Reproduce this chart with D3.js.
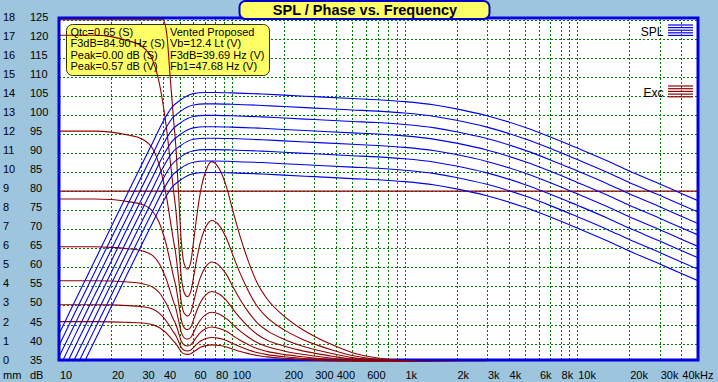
<!DOCTYPE html>
<html>
<head>
<meta charset="utf-8">
<script src="https://cdn.jsdelivr.net/npm/d3@7"></script>
<style>
  body { margin: 0; background: #9ec5de; }
  svg { display: block; font-family: "Liberation Sans", Arial, sans-serif; }
</style>
</head>
<body>
<svg id="chart" width="718" height="382"></svg>
<script>
window.addEventListener("load", drawChart);

// axis labels
var FREQ_TICKS = [10, 20, 30, 40, 60, 80, 100, 200, 300, 400, 600, 1000, 2000, 3000, 4000, 6000, 8000, 10000, 20000, 30000, 40000];
var FREQ_LABELS = ["10", "20", "30", "40", "60", "80", "100", "200", "300", "400", "600", "1k", "2k", "3k", "4k", "6k", "8k", "10k", "20k", "30k", "40kHz"];
var DB_TICKS = [35, 40, 45, 50, 55, 60, 65, 70, 75, 80, 85, 90, 95, 100, 105, 110, 115, 120, 125];
var MM_TICKS = [0, 1, 2, 3, 4, 5, 6, 7, 8, 9, 10, 11, 12, 13, 14, 15, 16, 17, 18];

// SPL curves (dB), one per drive level
var SPL_FREQ = [10, 12, 15, 20, 25, 30, 35, 40, 45, 50, 55, 60, 70, 80, 100, 150, 200, 300, 500, 700, 1000, 1500, 2000, 3000, 5000, 7000, 10000, 15000, 20000, 30000, 40000, 50000];
var SPL_1 = [42.5, 49.9, 58.9, 70.5, 79.5, 86.8, 92.9, 98.2, 102.0, 103.8, 105.0, 105.6, 105.9, 105.9, 105.8, 105.5, 105.2, 104.8, 104.3, 104.0, 103.5, 102.6, 101.6, 99.8, 96.7, 94.2, 91.3, 87.9, 85.3, 81.9, 79.4, 77.5];
var SPL_2 = [39.5, 46.9, 55.9, 67.5, 76.5, 83.8, 89.9, 95.2, 99.0, 100.8, 102.0, 102.6, 102.9, 102.9, 102.8, 102.5, 102.2, 101.8, 101.3, 101.0, 100.5, 99.6, 98.6, 96.8, 93.7, 91.2, 88.3, 84.9, 82.3, 78.9, 76.4, 74.5];
var SPL_3 = [36.5, 43.9, 52.9, 64.5, 73.5, 80.8, 86.9, 92.2, 96.0, 97.8, 99.0, 99.6, 99.9, 99.9, 99.8, 99.5, 99.2, 98.8, 98.3, 98.0, 97.5, 96.6, 95.6, 93.8, 90.7, 88.2, 85.3, 81.9, 79.3, 75.9, 73.4, 71.5];
var SPL_4 = [33.5, 40.9, 49.9, 61.5, 70.5, 77.8, 83.9, 89.2, 93.0, 94.8, 96.0, 96.6, 96.9, 96.9, 96.8, 96.5, 96.2, 95.8, 95.3, 95.0, 94.5, 93.6, 92.6, 90.8, 87.7, 85.2, 82.3, 78.9, 76.3, 72.9, 70.4, 68.5];
var SPL_5 = [30.5, 37.9, 46.9, 58.5, 67.5, 74.8, 80.9, 86.2, 90.0, 91.8, 93.0, 93.6, 93.9, 93.9, 93.8, 93.5, 93.2, 92.8, 92.3, 92.0, 91.5, 90.6, 89.6, 87.8, 84.7, 82.2, 79.3, 75.9, 73.3, 69.9, 67.4, 65.5];
var SPL_6 = [27.5, 34.9, 43.9, 55.5, 64.5, 71.8, 77.9, 83.2, 87.0, 88.8, 90.0, 90.6, 90.9, 90.9, 90.8, 90.5, 90.2, 89.8, 89.3, 89.0, 88.5, 87.6, 86.6, 84.8, 81.7, 79.2, 76.3, 72.9, 70.3, 66.9, 64.4, 62.5];
var SPL_7 = [24.5, 31.9, 40.9, 52.5, 61.5, 68.8, 74.9, 80.2, 84.0, 85.8, 87.0, 87.6, 87.9, 87.9, 87.8, 87.5, 87.2, 86.8, 86.3, 86.0, 85.5, 84.6, 83.6, 81.8, 78.7, 76.2, 73.3, 69.9, 67.3, 63.9, 61.4, 59.5];
var SPL_8 = [21.5, 28.9, 37.9, 49.5, 58.5, 65.8, 71.9, 77.2, 81.0, 82.8, 84.0, 84.6, 84.9, 84.9, 84.8, 84.5, 84.2, 83.8, 83.3, 83.0, 82.5, 81.6, 80.6, 78.8, 75.7, 73.2, 70.3, 66.9, 64.3, 60.9, 58.4, 56.5];

// cone excursion curves (mm), same drive levels
var EXC_FREQ = [10, 16, 20, 25, 30, 35, 38, 40, 42, 44, 46, 47.5, 49, 51, 53, 55.5, 58, 60, 63, 66, 71, 76.5, 85, 93, 102, 112, 125, 140, 160, 200, 250, 310, 385, 500, 700, 1000, 1500, 3000];
var EXC_1 = [24.3, 24.3, 24.2, 23.9, 23.5, 22.4, 20.8, 19.2, 17.3, 15.0, 12.8, 11.3, 9.2, 6.4, 5.2, 4.9, 5.3, 6.3, 7.8, 9.0, 10.1, 10.55, 10.15, 9.25, 7.9, 6.6, 5.3, 4.2, 3.35, 2.45, 1.8, 1.32, 0.92, 0.52, 0.24, 0.1, 0.04, 0.01];
var EXC_2 = [17.18, 17.18, 17.11, 16.9, 16.62, 15.84, 14.71, 13.58, 12.23, 10.61, 9.05, 7.99, 6.51, 4.53, 3.68, 3.46, 3.75, 4.45, 5.52, 6.36, 7.14, 7.46, 7.18, 6.54, 5.59, 4.67, 3.75, 2.97, 2.37, 1.73, 1.27, 0.93, 0.65, 0.37, 0.17, 0.07, 0.03, 0.01];
var EXC_3 = [12.15, 12.15, 12.1, 11.95, 11.75, 11.2, 10.4, 9.6, 8.65, 7.5, 6.4, 5.65, 4.6, 3.2, 2.6, 2.45, 2.65, 3.15, 3.9, 4.5, 5.05, 5.28, 5.08, 4.63, 3.95, 3.3, 2.65, 2.1, 1.68, 1.23, 0.9, 0.66, 0.46, 0.26, 0.12, 0.05, 0.02, 0.01];
var EXC_4 = [8.59, 8.59, 8.56, 8.45, 8.31, 7.92, 7.35, 6.79, 6.12, 5.3, 4.53, 4.0, 3.25, 2.26, 1.84, 1.73, 1.87, 2.23, 2.76, 3.18, 3.57, 3.73, 3.59, 3.27, 2.79, 2.33, 1.87, 1.49, 1.18, 0.87, 0.64, 0.47, 0.33, 0.18, 0.08, 0.04, 0.01, 0];
var EXC_5 = [6.08, 6.08, 6.05, 5.98, 5.88, 5.6, 5.2, 4.8, 4.33, 3.75, 3.2, 2.83, 2.3, 1.6, 1.3, 1.23, 1.33, 1.58, 1.95, 2.25, 2.53, 2.64, 2.54, 2.31, 1.98, 1.65, 1.33, 1.05, 0.84, 0.61, 0.45, 0.33, 0.23, 0.13, 0.06, 0.03, 0.01, 0];
var EXC_6 = [4.3, 4.3, 4.28, 4.23, 4.15, 3.96, 3.68, 3.39, 3.06, 2.65, 2.26, 2.0, 1.63, 1.13, 0.92, 0.87, 0.94, 1.11, 1.38, 1.59, 1.79, 1.87, 1.79, 1.64, 1.4, 1.17, 0.94, 0.74, 0.59, 0.43, 0.32, 0.23, 0.16, 0.09, 0.04, 0.02, 0.01, 0];
var EXC_7 = [3.04, 3.04, 3.03, 2.99, 2.94, 2.8, 2.6, 2.4, 2.16, 1.88, 1.6, 1.41, 1.15, 0.8, 0.65, 0.61, 0.66, 0.79, 0.98, 1.13, 1.26, 1.32, 1.27, 1.16, 0.99, 0.83, 0.66, 0.53, 0.42, 0.31, 0.23, 0.17, 0.12, 0.07, 0.03, 0.01, 0.01, 0];
var EXC_8 = [2.15, 2.15, 2.14, 2.11, 2.08, 1.98, 1.84, 1.7, 1.53, 1.33, 1.13, 1.0, 0.81, 0.57, 0.46, 0.43, 0.47, 0.56, 0.69, 0.8, 0.89, 0.93, 0.9, 0.82, 0.7, 0.58, 0.47, 0.37, 0.3, 0.22, 0.16, 0.12, 0.08, 0.05, 0.02, 0.01, 0, 0];

var XMAX_MM = 9;

var TITLE = "SPL / Phase vs. Frequency";
var INFO_LEFT = ["Qtc=0.65 (S)", "F3dB=84.90 Hz (S)", "Peak=0.00 dB (S)", "Peak=0.57 dB (V)"];
var INFO_RIGHT = ["Vented Proposed", "Vb=12.4 Lt (V)", "F3dB=39.69 Hz (V)", "Fb1=47.68 Hz (V)"];

var PLOT = { LEFT: 59, RIGHT: 698, TOP: 18, BOTTOM: 360 };
var BLUE = "#0000ee";
var RED = "#900000";
var GRID = "#008000";

function drawChart() {
  var svg = d3.select("#chart");

  var x = d3.scaleLog().domain([10, 50000]).range([PLOT.LEFT, PLOT.RIGHT]);
  var yDb = d3.scaleLinear().domain([35, 125]).range([362.6, 19.7]);
  // excursion shares the same grid: 0 mm at 35 dB, 18 mm at 125 dB; the program pins overflow to the top
  var yMm = d3.scaleLinear().domain([0, 18]).range([362.6, 19.7]).clamp(true);

  svg.append("rect").attr("width", 718).attr("height", 382).attr("fill", "#9ec5de");
  svg.append("rect").attr("x", PLOT.LEFT).attr("y", PLOT.TOP)
    .attr("width", PLOT.RIGHT - PLOT.LEFT).attr("height", PLOT.BOTTOM - PLOT.TOP).attr("fill", "#ffffff");

  svg.append("clipPath").attr("id", "plotclip").append("rect")
    .attr("x", PLOT.LEFT + 1).attr("y", PLOT.TOP)
    .attr("width", PLOT.RIGHT - PLOT.LEFT - 1).attr("height", PLOT.BOTTOM - PLOT.TOP + 1.5);

  // dotted grid
  var grid = svg.append("g").attr("stroke", GRID).attr("stroke-dasharray", "2,2").attr("shape-rendering", "crispEdges");
  grid.selectAll("line.h").data(DB_TICKS.slice(1)).enter().append("line")
    .attr("x1", PLOT.LEFT).attr("x2", PLOT.RIGHT)
    .attr("y1", function (d) { return Math.round(yDb(d)) + 0.5; })
    .attr("y2", function (d) { return Math.round(yDb(d)) + 0.5; });
  grid.selectAll("line.v").data(x.ticks().filter(function (d) { return d > 10; })).enter().append("line")
    .attr("y1", PLOT.TOP).attr("y2", PLOT.BOTTOM)
    .attr("x1", function (d) { return Math.round(x(d)) + 0.5; })
    .attr("x2", function (d) { return Math.round(x(d)) + 0.5; });

  // info box
  svg.append("rect").attr("x", 66.5).attr("y", 24.5).attr("width", 203).attr("height", 51)
    .attr("rx", 6).attr("fill", "#ffff66").attr("stroke", "#333300").attr("stroke-width", 1);

  // border
  svg.append("rect").attr("x", PLOT.LEFT).attr("y", PLOT.TOP)
    .attr("width", PLOT.RIGHT - PLOT.LEFT).attr("height", PLOT.BOTTOM - PLOT.TOP)
    .attr("fill", "none").attr("stroke", "#0000e0").attr("stroke-width", 3);

  var curves = svg.append("g").attr("clip-path", "url(#plotclip)").attr("fill", "none").attr("stroke-width", 1.1);

  var excLine = d3.line()
    .x(function (d, i) { return x(EXC_FREQ[i]); })
    .y(function (d) { return yMm(d); })
    .curve(d3.curveMonotoneX);
  var splLine = d3.line()
    .x(function (d, i) { return x(SPL_FREQ[i]); })
    .y(function (d) { return yDb(d); })
    .curve(d3.curveMonotoneX);

  // Xmax line
  curves.append("line").attr("x1", PLOT.LEFT).attr("x2", PLOT.RIGHT)
    .attr("y1", yMm(XMAX_MM)).attr("y2", yMm(XMAX_MM)).attr("stroke", RED);

  curves.selectAll("path.exc").data([EXC_1, EXC_2, EXC_3, EXC_4, EXC_5, EXC_6, EXC_7, EXC_8]).enter()
    .append("path").attr("class", "exc").attr("d", excLine).attr("stroke", RED);

  curves.selectAll("path.spl").data([SPL_1, SPL_2, SPL_3, SPL_4, SPL_5, SPL_6, SPL_7, SPL_8]).enter()
    .append("path").attr("class", "spl").attr("d", splLine).attr("stroke", BLUE);

  // info text
  var info = svg.append("g").attr("font-size", 11).attr("fill", "#000");
  info.selectAll("text.l").data(INFO_LEFT).enter().append("text")
    .attr("x", 70.5).attr("y", function (d, i) { return 35.5 + i * 11.5; }).text(function (d) { return d; });
  info.selectAll("text.r").data(INFO_RIGHT).enter().append("text")
    .attr("x", 170).attr("y", function (d, i) { return 35.5 + i * 11.5; }).text(function (d) { return d; });

  // axes (labels only, left-aligned on their grid line like the original program)
  var xAxis = svg.append("g").attr("transform", "translate(0, 378.5)")
    .call(d3.axisBottom(x).tickValues(FREQ_TICKS).tickSize(0)
      .tickFormat(function (d, i) { return FREQ_LABELS[i]; }));
  var yAxisDb = svg.append("g").attr("transform", "translate(30, 0.5)")
    .call(d3.axisLeft(yDb).tickValues(DB_TICKS).tickSize(0));
  var yAxisMm = svg.append("g").attr("transform", "translate(3, 0.5)")
    .call(d3.axisLeft(yMm.copy().clamp(false)).tickValues(MM_TICKS).tickSize(0));

  [xAxis, yAxisDb, yAxisMm].forEach(function (a) {
    a.select(".domain").remove();
    a.selectAll("text").attr("font-family", null).attr("font-size", 11).attr("fill", "#000")
      .attr("text-anchor", "start").attr("dy", null);
  });
  xAxis.selectAll("text").attr("y", 0).attr("x", 0.5);
  yAxisDb.selectAll("text").attr("x", 0);
  yAxisMm.selectAll("text").attr("x", 0);

  svg.append("text").attr("x", 3).attr("y", 378.5).attr("font-size", 11).text("mm");
  svg.append("text").attr("x", 30).attr("y", 378.5).attr("font-size", 11).text("dB");

  // legend
  var legend = svg.append("g");
  legend.append("text").attr("x", 663.5).attr("y", 36).attr("text-anchor", "end").attr("font-size", 12).text("SPL");
  legend.append("text").attr("x", 663.5).attr("y", 96.5).attr("text-anchor", "end").attr("font-size", 12).text("Exc");
  legend.selectAll("line.b").data(d3.range(5)).enter().append("line")
    .attr("x1", 668).attr("x2", 693).attr("stroke", BLUE).attr("stroke-width", 1.2)
    .attr("y1", function (d) { return 25 + d * 2.6; }).attr("y2", function (d) { return 25 + d * 2.6; });
  legend.selectAll("line.r").data(d3.range(5)).enter().append("line")
    .attr("x1", 668).attr("x2", 693).attr("stroke", RED).attr("stroke-width", 1.2)
    .attr("y1", function (d) { return 86 + d * 2.7; }).attr("y2", function (d) { return 86 + d * 2.7; });

  // title box
  svg.append("rect").attr("x", 239.5).attr("y", 1).attr("width", 250).attr("height", 18)
    .attr("rx", 6).attr("fill", "#ffff66").attr("stroke", "#0000c8").attr("stroke-width", 2);
  svg.append("text").attr("x", 365).attr("y", 15).attr("text-anchor", "middle")
    .attr("font-size", 14.5).attr("font-weight", "bold").text(TITLE);
}
</script>
</body>
</html>
